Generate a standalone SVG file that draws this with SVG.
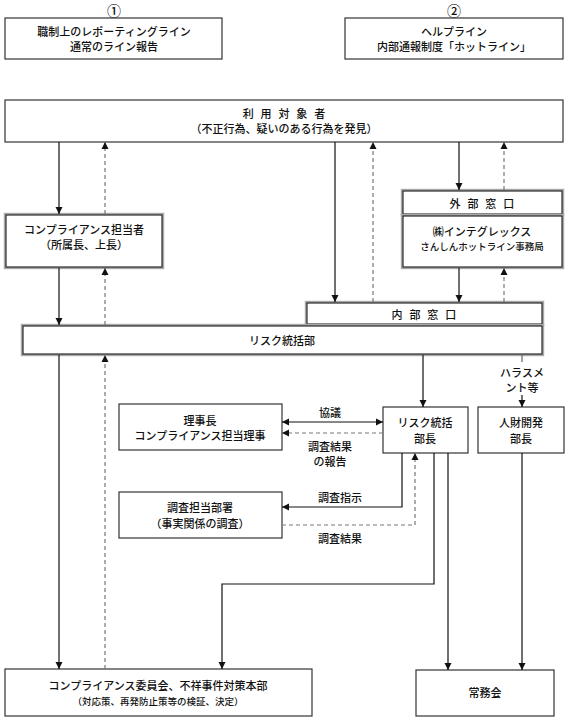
<svg xmlns="http://www.w3.org/2000/svg" width="570" height="720" viewBox="0 0 570 720">
<defs>
<style>
text{font-family:"Noto Sans CJK JP","Noto Sans",sans-serif;font-size:11px;fill:#111;text-anchor:middle;dominant-baseline:central;font-weight:500}
.sm{font-size:9.5px}
.sp{letter-spacing:2.2px}
.num{font-size:14px}
.box{fill:#fff;stroke:#333;stroke-width:1.2}
.sh{fill:#fff;stroke:#a8a8a8;stroke-width:2.4}
.in{fill:none;stroke:#111;stroke-width:1}
.ln{fill:none;stroke:#111;stroke-width:1.2}
.ds{fill:none;stroke:#777;stroke-width:1.2;stroke-dasharray:4 3}
</style>
<marker id="ah" viewBox="0 0 8 8" refX="8" refY="4" markerWidth="7" markerHeight="8" markerUnits="userSpaceOnUse" orient="auto-start-reverse">
<path d="M0,0 L8,4 L0,8 z" fill="#111"/>
</marker>
</defs>

<g id="label1"><text class="num" x="114" y="10">①</text></g>
<g id="label2"><text class="num" x="454" y="10">②</text></g>

<g id="box1">
<rect class="box" x="5" y="18" width="217" height="41"/>
<text x="114" y="31">職制上のレポーティングライン</text>
<text x="114" y="46">通常のライン報告</text>
</g>
<g id="box2">
<rect class="box" x="345" y="18" width="218" height="41"/>
<text x="454" y="31">ヘルプライン</text>
<text x="454" y="46">内部通報制度「ホットライン」</text>
</g>

<g id="users">
<rect class="box" x="5" y="100" width="558" height="42"/>
<text class="sp" x="285" y="113">利 用 対 象 者</text>
<text x="284" y="128">（不正行為、疑いのある行為を発見）</text>
</g>

<g id="compliance">
<rect class="sh" x="5" y="214" width="158" height="54"/>
<rect class="in" x="6" y="215" width="156" height="52"/>
<text x="84" y="229">コンプライアンス担当者</text>
<text x="84" y="244">（所属長、上長）</text>
</g>

<g id="external">
<rect class="sh" x="402" y="190" width="161" height="25"/>
<rect class="in" x="403" y="191" width="159" height="23"/>
<text class="sp" x="483" y="203">外 部 窓 口</text>
</g>
<g id="integrex">
<rect class="sh" x="402" y="215" width="161" height="53"/>
<rect class="in" x="403" y="216" width="159" height="51"/>
<text x="482" y="231">㈱インテグレックス</text>
<text class="sm" x="482" y="246">さんしんホットライン事務局</text>
</g>

<g id="internal">
<rect class="sh" x="306" y="302" width="237" height="23"/>
<rect class="in" x="307" y="303" width="235" height="21"/>
<text class="sp" x="425" y="314">内 部 窓 口</text>
</g>

<g id="riskdept">
<rect class="sh" x="22" y="325" width="521" height="30"/>
<rect class="in" x="23" y="326" width="519" height="28"/>
<text x="282" y="340">リスク統括部</text>
</g>

<g id="chairman">
<rect class="box" x="119" y="404" width="163" height="46"/>
<text x="200" y="420">理事長</text>
<text x="200" y="435">コンプライアンス担当理事</text>
</g>

<g id="riskhead">
<rect class="box" x="383" y="407" width="85" height="46"/>
<text x="425" y="422">リスク統括</text>
<text x="425" y="438">部長</text>
</g>

<g id="hrhead">
<rect class="box" x="478" y="407" width="86" height="46"/>
<text x="521" y="422">人財開発</text>
<text x="521" y="438">部長</text>
</g>

<g id="investigation">
<rect class="box" x="119" y="492" width="163" height="46"/>
<text x="200" y="507">調査担当部署</text>
<text x="200" y="523">（事実関係の調査）</text>
</g>

<g id="committee">
<rect class="box" x="5" y="669" width="307" height="47"/>
<text x="158" y="685">コンプライアンス委員会、不祥事件対策本部</text>
<text class="sm" x="158" y="701">（対応策、再発防止策等の検証、決定）</text>
</g>

<g id="board">
<rect class="box" x="416" y="670" width="138" height="46"/>
<text x="485" y="692">常務会</text>
</g>

<g id="connectors">
<line class="ln" x1="59" y1="142" x2="59" y2="214" marker-end="url(#ah)"/>
<line class="ds" x1="105" y1="214" x2="105" y2="142" marker-end="url(#ah)"/>
<line class="ln" x1="335" y1="142" x2="335" y2="302" marker-end="url(#ah)"/>
<line class="ds" x1="373" y1="302" x2="373" y2="142" marker-end="url(#ah)"/>
<line class="ln" x1="459" y1="142" x2="459" y2="190" marker-end="url(#ah)"/>
<line class="ds" x1="504" y1="190" x2="504" y2="142" marker-end="url(#ah)"/>
<line class="ln" x1="459" y1="268" x2="459" y2="302" marker-end="url(#ah)"/>
<line class="ds" x1="504" y1="302" x2="504" y2="268" marker-end="url(#ah)"/>
<line class="ln" x1="59" y1="268" x2="59" y2="325" marker-end="url(#ah)"/>
<line class="ds" x1="105" y1="325" x2="105" y2="268" marker-end="url(#ah)"/>
<line class="ln" x1="59" y1="355" x2="59" y2="669" marker-end="url(#ah)"/>
<line class="ds" x1="105" y1="669" x2="105" y2="355" marker-end="url(#ah)"/>
<line class="ln" x1="423" y1="355" x2="423" y2="407" marker-end="url(#ah)"/>
<line class="ln" x1="522" y1="355" x2="522" y2="362" style="stroke:#666"/>
<line class="ln" x1="522" y1="395" x2="522" y2="407" marker-end="url(#ah)"/>
<text x="522" y="372">ハラスメ</text>
<text x="522" y="387">ント等</text>
<line class="ln" x1="282" y1="422" x2="383" y2="422" marker-start="url(#ah)" marker-end="url(#ah)"/>
<text x="330" y="412">協議</text>
<line class="ds" x1="383" y1="433" x2="282" y2="433" marker-end="url(#ah)"/>
<text x="330" y="446">調査結果</text>
<text x="330" y="461">の報告</text>
<polyline class="ln" points="402,453 402,507 282,507" marker-end="url(#ah)"/>
<text x="340" y="497">調査指示</text>
<polyline class="ds" points="282,525 415,525 415,453" marker-end="url(#ah)"/>
<text x="340" y="538">調査結果</text>
<polyline class="ln" points="434,453 434,584 222,584 222,669" marker-end="url(#ah)"/>
<line class="ln" x1="448" y1="453" x2="448" y2="670" marker-end="url(#ah)"/>
<line class="ln" x1="522" y1="453" x2="522" y2="670" marker-end="url(#ah)"/>
</g>
</svg>
